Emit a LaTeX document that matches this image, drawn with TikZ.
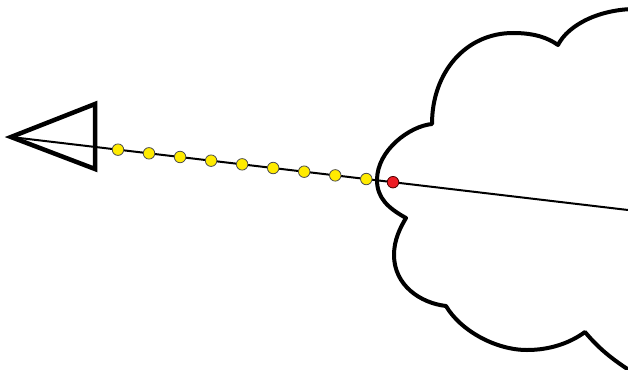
\documentclass[tikz,border=0pt]{standalone}
\usetikzlibrary{calc}
\definecolor{dotyellow}{RGB}{255,235,0}
\definecolor{dotred}{RGB}{237,28,36}
\begin{document}
\begin{tikzpicture}[x=1pt,y=-1pt,
  cloudline/.style={line width=4pt,line join=round,draw=black,fill=white},
  pointer/.style={line width=4.5pt,line join=miter,draw=black},
  ray/.style={line width=2pt,draw=black},
  ydot/.style={circle,fill=dotyellow,draw=black!70,line width=0.8pt,inner sep=0pt,minimum size=11.5pt},
  rdot/.style={circle,fill=dotred,draw=black!70!red,line width=0.8pt,inner sep=0pt,minimum size=11.5pt}]
\useasboundingbox (0,0) rectangle (628,369);
\begin{scope}
\clip (0,0) rectangle (628,369);
\draw[cloudline] (432,124)
  .. controls (410,126) and (377,150) .. (377,180)
  .. controls (377,198) and (388,208) .. (406,218)
  .. controls (400,228) and (394,240) .. (394,255)
  .. controls (394,285) and (420,303) .. (446,306)
  .. controls (460,330) and (495,350) .. (527,350)
  .. controls (550,350) and (570,343) .. (585,332)
  .. controls (600,350) and (615,362) .. (645,380)
  -- (720,380) -- (720,5) -- (640,9)
  .. controls (600,8) and (568,25) .. (558,45)
  .. controls (548,38) and (535,33) .. (513,33)
  .. controls (466,33) and (432,72) .. cycle;
\end{scope}
\coordinate (tip) at (11,137);
\coordinate (end) at (628,210);
\coordinate (tr) at (95,104);
\coordinate (br) at (95,169);
\draw[pointer] (tip) -- (tr) -- (br) -- cycle;
\draw[ray] (tip) -- (end);
\foreach \f [count=\i] in {0.1734,0.2237,0.2740,0.3243,0.3746,0.4249,0.4752,0.5255,0.5758}
  \node[ydot] (y\i) at ($(tip)!\f!(end)$) {};
\node[rdot] (r) at ($(tip)!0.6191!(end)$) {};
\end{tikzpicture}
\end{document}
